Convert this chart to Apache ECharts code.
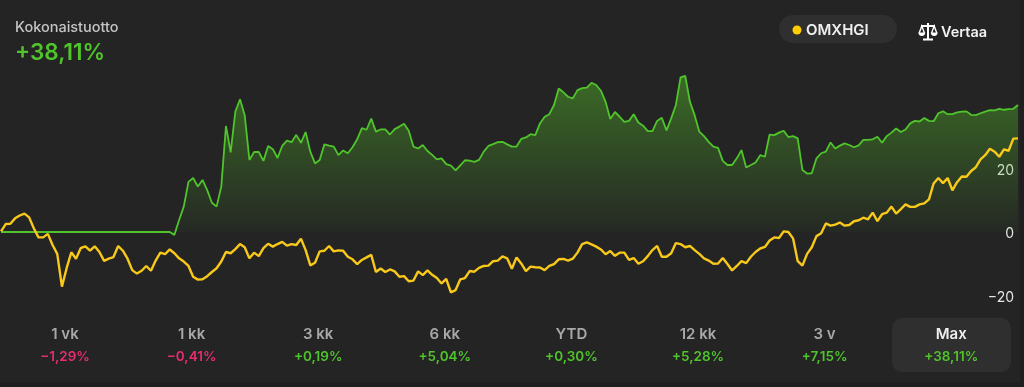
<!DOCTYPE html>
<html><head><meta charset="utf-8">
<style>html,body{margin:0;padding:0;background:#242424}#c{width:1024px;height:387px}</style>
<script src="https://cdn.jsdelivr.net/npm/echarts@6/dist/echarts.min.js"></script>
</head><body><div id="c"></div>
<script>
const fundReturn = [0,0,0,0,0,0,0,0,0,0,0,0,0,0,0,0,0,0,0,0,0,0,0,0,0,0,0,0,0,0,0,0,0,0,0,0,0,
-0.9,3.8,8.0,15.8,17.0,14.3,16.4,13.2,9.2,8.0,14.3,33.4,25.1,37.9,41.8,36.8,22.7,25.2,25.2,22.4,27.1,26.1,23.3,27.1,28.8,28.3,30.6,28.1,31.5,25.3,21.6,22.7,27.6,27.2,26.9,24.2,
25.7,24.8,26.7,29.2,32.7,32.2,35.7,31.6,32.3,32.3,30.7,32.4,33.2,34.1,31.9,26.9,26.3,27.4,25.5,24.3,22.9,23.2,21.4,20.9,19.4,21.0,22.6,22.5,22.1,22.7,25.3,27.1,27.7,28.3,28.4,27.6,26.9,26.9,29.3,29.8,30.8,30.5,34.2,36.3,37.1,40.0,45.2,44.0,42.6,42.1,44.7,45.3,45.5,47.0,46.3,44.5,41.0,35.6,37.8,36.3,34.7,35.0,37.1,34.5,33.5,31.8,31.8,35.0,36.0,32.0,35.8,40.0,
48.7,49.2,41.0,36.8,31.6,30.2,28.4,26.9,26.5,22.4,21.1,21.1,23.2,25.8,20.3,21.1,21.9,24.2,23.7,30.7,30.5,31.3,31.9,29.9,30.2,29.5,19.5,18.4,18.5,23.2,24.8,25.3,28.2,26.3,27.2,27.9,27.4,26.7,27.3,29.0,29.0,29.2,30.0,28.1,30.2,31.3,32.6,31.5,32.3,34.2,35.0,34.8,35.9,35.0,34.9,37.4,38.0,37.1,37.1,37.7,37.9,38.0,36.9,36.8,37.4,37.9,38.4,38.3,38.8,38.5,38.7,38.8,40.0];
const indexReturn = [0.2,2.5,2.6,4.3,5.2,5.8,4.6,1.2,-1.7,-1.7,-0.6,-4.1,-6.9,-17.2,-11.4,-6.4,-8.4,-5.1,-4.5,-5.9,-4.5,-6.3,-9.1,-8.4,-7.9,-4.4,-5.9,-8.4,-12.0,-13.1,-12.2,-10.7,-12.2,-9.0,-6.5,-7.0,-5.5,-6.7,-8.3,-9.3,-10.7,-14.1,-15.0,-14.9,-13.9,-12.6,-11.4,-9.3,-6.3,-6.7,-5.4,-3.8,-4.8,-8.3,-6.5,-7.6,-5.1,-3.7,-4.6,-3.8,-3.1,-4.3,-3.8,-4.1,-2.1,-5.7,-10.5,-9.7,-6.1,-5.9,-4.4,-6.1,-5.8,
-5.9,-7.8,-8.6,-10.1,-8.8,-8.0,-7.2,-12.6,-11.5,-12.6,-11.8,-12.4,-14.1,-13.9,-15.5,-15.3,-12.4,-13.6,-12.1,-13.5,-14.5,-16.2,-14.8,-19.0,-18.3,-14.9,-14.5,-12.3,-12.5,-11.3,-10.7,-10.6,-9.2,-9.0,-7.7,-8.3,-11.6,-8.0,-9.9,-12.3,-10.9,-11.1,-11.2,-12.0,-10.7,-10.1,-8.6,-8.5,-9.0,-8.4,-6.5,-3.8,-3.3,-3.9,-4.6,-5.5,-7.0,-6.0,-7.5,-6.5,-6.5,-8.8,-8.2,-10.0,-9.2,-7.6,-5.7,-4.4,-7.8,-7.8,-6.7,-3.5,
-3.8,-4.8,-4.4,-5.7,-6.9,-8.3,-9.0,-10.0,-9.9,-8.2,-10.1,-12.1,-10.7,-9.2,-9.8,-7.8,-6.3,-5.2,-4.7,-2.7,-1.7,-1.9,0.2,0,-2.0,-9.2,-10.6,-6.9,-4.8,-1.3,-0.4,2.7,2.0,2.3,3.0,2.0,2.2,3.4,3.7,4.5,4.0,6.1,3.4,5.6,6.1,8.0,5.8,7.2,8.7,7.9,7.9,8.7,9.0,10.3,15.3,17.0,15.4,17.0,13.1,15.7,17.5,17.4,19.2,20.4,22.9,24.2,26.2,25.3,23.7,26.0,25.6,29.4,29.5];
const categories = fundReturn.map((_, i) => i);
const yTicks = [-20, 0, 20];
const periods = ["1 vk","1 kk","3 kk","6 kk","YTD","12 kk","3 v","Max"];
const periodReturns = ["−1,29%","−0,41%","+0,19%","+5,04%","+0,30%","+5,28%","+7,15%","+38,11%"];
const FONT = 'Inter, "Noto Sans", sans-serif';
const GREEN = '#50c42b', YELLOW = '#f8c81a', PINK = '#e52d72';

const iconStroke = {fill:'none',stroke:'#ffffff',lineWidth:2};
const iconLine = (x1,y1,x2,y2) => ({type:'line',shape:{x1,y1,x2,y2},style:iconStroke});
const iconPan = (cx) => ({type:'group',children:[
  {type:'polyline',shape:{points:[[cx-2.6,10],[cx,3],[cx+2.6,10]]},style:{fill:'none',stroke:'#ffffff',lineWidth:1.4}},
  {type:'sector',shape:{cx,cy:9.5,r:3.4,r0:0,startAngle:0,endAngle:Math.PI},style:{fill:'#ffffff'}}
]});
const graphics = [
  {type:'rect',z:-1,shape:{x:0,y:382,width:1024,height:5},style:{fill:'#1f1f1f'}},
  {type:'rect',z:-1,shape:{x:1020,y:0,width:4,height:387},style:{fill:'#1f1f1f'}},
  {type:'text',x:15,y:28,style:{text:'Kokonaistuotto',fill:'#c4c4c4',font:'500 14.5px '+FONT,verticalAlign:'middle'}},
  {type:'text',x:15,y:53,style:{text:periodReturns[7],fill:GREEN,font:'600 22.5px '+FONT,verticalAlign:'middle'}},
  {type:'rect',shape:{x:779,y:15,width:118,height:28,r:14},style:{fill:'#2f2f2f'}},
  {type:'circle',shape:{cx:797,cy:30,r:4.5},style:{fill:'#ffcc00'}},
  {type:'text',x:806,y:30,style:{text:'OMXHGI',fill:'#efefef',font:'600 15px '+FONT,verticalAlign:'middle'}},
  {type:'group',x:919,y:23,children:[
    iconLine(9,0,9,16),iconLine(4,16.5,14,16.5),iconLine(2,3,16,3),iconPan(2.8),iconPan(15.2)
  ]},
  {type:'text',x:941,y:32.5,style:{text:'Vertaa',fill:'#f2f2f2',font:'600 14.5px '+FONT,verticalAlign:'middle'}},
  {type:'rect',shape:{x:892,y:318,width:119,height:54,r:10},style:{fill:'#2f2f2f'}}
];
periods.forEach((p, i) => {
  const cx = 65 + i * 126.6, active = p === 'Max', up = periodReturns[i][0] === '+';
  graphics.push({type:'text',x:cx,y:334,style:{text:p,fill:active?'#efefef':'#a8a8a8',font:'600 15px '+FONT,align:'center',verticalAlign:'middle'}});
  graphics.push({type:'text',x:cx,y:357,style:{text:periodReturns[i],fill:up?GREEN:PINK,font:'600 13.5px '+FONT,align:'center',verticalAlign:'middle'}});
});

const chart = echarts.init(document.getElementById('c'), null, {renderer:'canvas'});
chart.setOption({
  animation:false,
  backgroundColor:'#242424',
  grid:{left:1,right:6,top:41.5,height:317.5,containLabel:false},
  xAxis:{type:'category',data:categories,boundaryGap:false,show:false},
  yAxis:{type:'value',position:'right',min:-40,max:60,interval:20,splitLine:{show:false},axisLine:{show:false},axisTick:{show:false},
    axisLabel:{inside:true,margin:4,customValues:yTicks,align:'right',fontFamily:FONT,fontSize:14,
      rich:{t:{color:'#e4e4e4',fontFamily:FONT,fontSize:14,padding:[4,0,0,0]}},
      formatter:v=>'{t|'+String(v).replace('-','−')+'}'}},
  graphic:graphics,
  series:[
    {type:'line',data:fundReturn,symbol:'none',z:2,lineStyle:{color:GREEN,width:1.8},
      areaStyle:{origin:0,color:new echarts.graphic.LinearGradient(0,0,0,1,[{offset:0,color:'rgba(85,190,40,0.66)'},{offset:0.5,color:'rgba(85,190,40,0.34)'},{offset:1,color:'rgba(85,190,40,0.03)'}])}},
    {type:'line',data:indexReturn,symbol:'none',z:3,lineStyle:{color:YELLOW,width:2.4}}
  ]
});
</script></body></html>
